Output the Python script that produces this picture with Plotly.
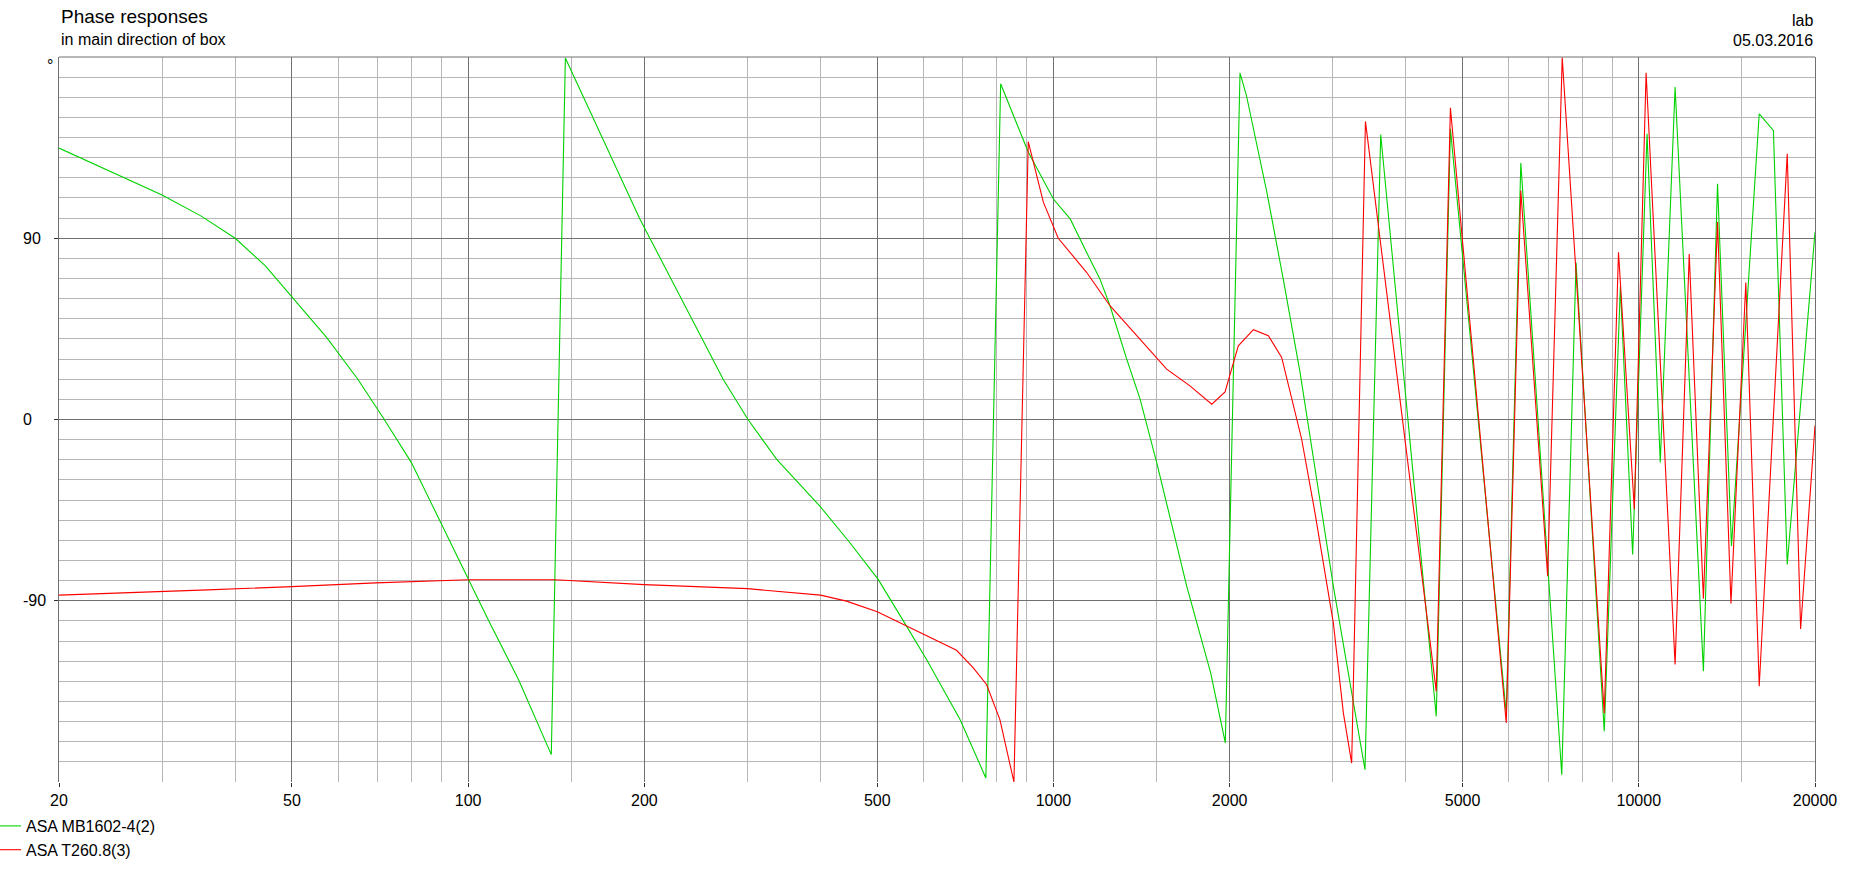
import math
import plotly.graph_objects as go

# ---------------- data ----------------
freq_mb1602 = [20, 25, 30, 35, 40, 45, 50, 57.3, 64.8, 71.9, 80, 89.5, 100, 108.9, 121.9,
               132.6, 138.7, 146.6, 169.6, 196.5, 272.7, 300.7, 336.4, 398.9, 449, 501.8,
               561, 607, 692.5, 766.5, 812.4, 905.6, 999.7, 1068, 1139, 1201, 1249, 1334,
               1406, 1501, 1689, 1856, 1966, 2083, 2136, 2315, 2469, 2638, 3007, 3208, 3406,
               3623, 4508, 4766, 5937, 6287, 7386, 7812, 8730, 9300, 9761, 10330, 10881,
               11535, 12894, 13630, 14400, 16060, 16980, 17930, 20000]
phase_mb1602 = [134.8, 122, 111.5, 101, 90, 76.4, 60.7, 40.8, 20, 0, -21.4, -50.4, -79.4, -101,
                -129.1, -154, -166.4, 179.5, 139.4, 99.6, 20, 0, -19.7, -43, -61.2, -79.4,
                -102.6, -119.2, -149, -178, 166.7, 132.8, 109.5, 99.6, 83, 69.7, 56.5, 30,
                10.1, -21.4, -82.7, -125.8, -160.6, 172, 161, 112.9, 69.8, 23.4, -82.7, -129,
                -173.9, 141.5, -147.4, 144.3, -146, 127.3, -176.4, 78, -154.8, 66, -67, 141.9,
                -21.4, 165.1, -125, 117, -62.8, 151.8, 143.5, -72, 93]

freq_t260 = [20, 25.6, 35.9, 50, 69.5, 100, 140.9, 200, 300, 400, 443, 500, 561, 683, 729.5,
             768.6, 810, 837, 856, 905.6, 961, 1019, 1139, 1249, 1406, 1561, 1711, 1864, 1964,
             2069, 2196, 2329, 2454, 2553, 2655, 2797, 3007, 3128, 3232, 3412, 4508, 4766,
             5937, 6287, 6987, 7399, 8730, 9233, 9826, 10292, 11535, 12195, 12894, 13630,
             14370, 15235, 16060, 17930, 18900, 20000]
phase_t260 = [-87.2, -86.2, -84.6, -83.0, -81.1, -79.6, -79.6, -82.0, -84.0, -87.2, -90.2, -95.5,
              -102.6, -114.6, -123.3, -131.6, -149, -167.3, -180, 138, 107.9, 90, 73.1, 56.5,
              39.9, 25, 16.7, 7.6, 13.7, 36.6, 44.6, 41.6, 30.8, 10.1, -9.8, -46.2, -101,
              -145.7, -170.6, 148, -135, 154.8, -150.7, 113.7, -77.8, 179.7, -145.8, 83, -44.6,
              172.2, -121.7, 82.2, -89, 98, -91.3, 68, -132.5, 131.9, -104, -3]

series_names = ["ASA MB1602-4(2)", "ASA T260.8(3)"]

x_major = [20, 50, 100, 200, 500, 1000, 2000, 5000, 10000, 20000]
x_major_text = ["20", "50", "100", "200", "500", "1000", "2000", "5000", "10000", "20000"]
x_minor = [30, 40, 60, 70, 80, 90, 150, 300, 400, 600, 700, 800, 900, 1500,
           3000, 4000, 6000, 7000, 8000, 9000, 15000]
y_major = [-90, 0, 90]
y_major_text = ["-90", "0", "90"]
y_minor = [v for v in range(-170, 180, 10) if v not in y_major]

# ---------------- layout geometry ----------------
W, H = 1855, 872
L, R, T, B = 59, 40, 57, 90
PW, PH = W - L - R, H - T - B
FONT = "Liberation Sans, Arial, sans-serif"
GREEN = "#00d200"
RED = "#ff0000"
MAJOR_GRID = "#707070"
MINOR_GRID = "#b8b4b8"


def px(x):
    return (x - L) / PW


def py(y):
    return (H - B - y) / PH


fig = go.Figure()
fig.add_trace(go.Scatter(x=freq_mb1602, y=phase_mb1602, mode="lines", name=series_names[0],
                         line=dict(color=GREEN, width=1.1)))
fig.add_trace(go.Scatter(x=freq_t260, y=phase_t260, mode="lines", name=series_names[1],
                         line=dict(color=RED, width=1.1)))

annotations = [
    dict(text="Phase responses", x=0, y=py(16), xref="paper", yref="paper",
         xanchor="left", yanchor="middle", showarrow=False,
         font=dict(family=FONT, size=19, color="#000")),
    dict(text="in main direction of box", x=0, y=py(39.5), xref="paper", yref="paper",
         xanchor="left", yanchor="middle", showarrow=False,
         font=dict(family=FONT, size=16, color="#000")),
    dict(text="lab", x=px(1815), y=py(20.5), xref="paper", yref="paper",
         xanchor="right", yanchor="middle", showarrow=False,
         font=dict(family=FONT, size=16, color="#000")),
    dict(text="05.03.2016", x=px(1815), y=py(40), xref="paper", yref="paper",
         xanchor="right", yanchor="middle", showarrow=False,
         font=dict(family=FONT, size=16, color="#000")),
    dict(text="°", x=px(50), y=py(65), xref="paper", yref="paper",
         xanchor="center", yanchor="middle", showarrow=False,
         font=dict(family=FONT, size=16, color="#000")),
]
for v, t in zip(y_major, y_major_text):
    annotations.append(dict(text=t, x=px(21), y=v, xref="paper", yref="y",
                            xanchor="left", yanchor="middle", showarrow=False,
                            font=dict(family=FONT, size=16, color="#000")))

fig.update_layout(
    width=W, height=H,
    margin=dict(l=L, r=R, t=T, b=B, pad=0, autoexpand=False),
    paper_bgcolor="#ffffff", plot_bgcolor="#ffffff",
    font=dict(family=FONT, size=16, color="#000"),
    showlegend=True,
    legend=dict(x=px(-14), y=py(809), xanchor="left", yanchor="top",
                bgcolor="rgba(0,0,0,0)", font=dict(family=FONT, size=16, color="#000"),
                itemwidth=30, tracegroupgap=0),
    annotations=annotations,
    shapes=[dict(type="line", xref="paper", yref="paper", x0=0, x1=1, y0=1, y1=1,
                 line=dict(color=MAJOR_GRID, width=1))],
    xaxis=dict(type="log", range=[math.log10(20), math.log10(20000)],
               tickmode="array", tickvals=x_major, ticktext=x_major_text,
               showgrid=True, gridcolor=MAJOR_GRID, gridwidth=1,
               ticks="outside", ticklen=4, tickcolor="#303030", tickwidth=1,
               tickfont=dict(family=FONT, size=16, color="#000"),
               showline=False, zeroline=False, automargin=False,
               minor=dict(tickmode="array", tickvals=x_minor, showgrid=True,
                          gridcolor=MINOR_GRID, gridwidth=1, ticks="")),
    yaxis=dict(range=[-180, 180], tickmode="array", tickvals=y_major,
               showticklabels=False, showgrid=True, gridcolor=MAJOR_GRID, gridwidth=1,
               ticks="outside", ticklen=4, tickcolor="#303030", tickwidth=1,
               showline=True, mirror=True, linecolor=MAJOR_GRID, linewidth=1,
               zeroline=False, automargin=False,
               minor=dict(tickmode="array", tickvals=y_minor, showgrid=True,
                          gridcolor=MINOR_GRID, gridwidth=1, ticks="")),
)

fig.write_html("out.html", config={"displayModeBar": False},
               post_script="document.body.style.margin='0';document.body.style.overflow='hidden';")
